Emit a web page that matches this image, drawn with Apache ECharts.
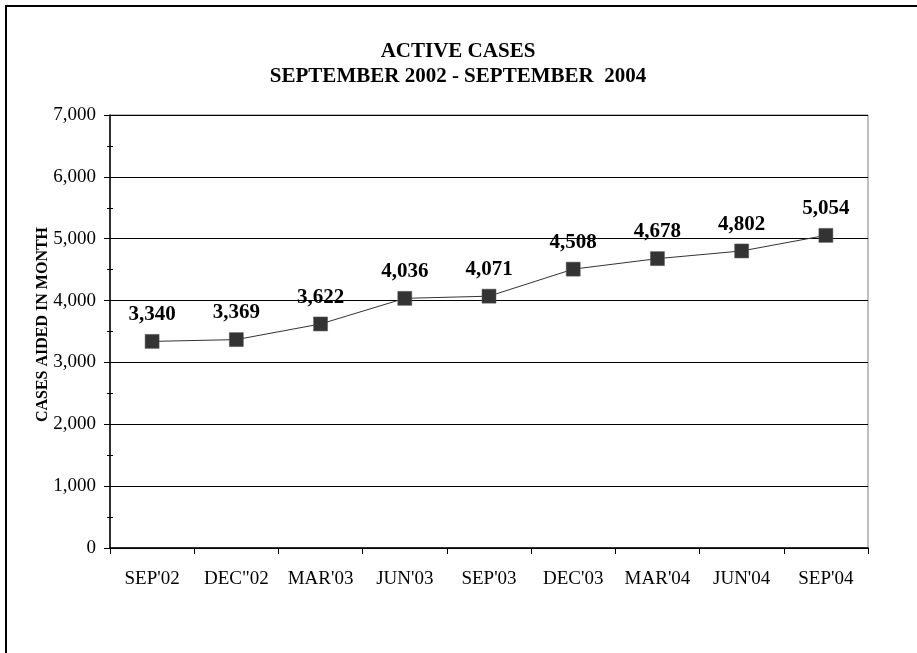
<!DOCTYPE html>
<html>
<head>
<meta charset="utf-8">
<script src="https://cdn.jsdelivr.net/npm/echarts@6/dist/echarts.min.js"></script>
<style>
html,body{margin:0;padding:0;background:#fff;}
#chart{width:917px;height:653px;}
</style>
</head>
<body>
<div id="chart"></div>
<script>
var categories = ["SEP'02", 'DEC"02', "MAR'03", "JUN'03", "SEP'03", "DEC'03", "MAR'04", "JUN'04", "SEP'04"];
var activeCases = [3340, 3369, 3622, 4036, 4071, 4508, 4678, 4802, 5054];
var titleLines = ["ACTIVE CASES", "SEPTEMBER 2002 - SEPTEMBER  2004"];
var yAxisName = "CASES AIDED IN MONTH";

var serif = "'Liberation Serif', 'Times New Roman', serif";
var chart = echarts.init(document.getElementById('chart'));
chart.setOption({
  backgroundColor: '#fff',
  animation: false,
  graphic: [{
    type: 'rect',
    shape: { x: 6, y: 6, width: 930, height: 670 },
    style: { fill: null, stroke: '#000', lineWidth: 2 },
    silent: true
  }],
  title: {
    text: titleLines.join('\n'),
    left: 453, top: 34, textAlign: 'center',
    textStyle: { fontFamily: serif, fontWeight: 'bold', fontSize: 21, lineHeight: 25, color: '#000' }
  },
  grid: { left: 110, right: 49, top: 115, bottom: 105, show: true, borderColor: '#808080', borderWidth: 1, containLabel: false },
  xAxis: {
    type: 'category', data: categories, boundaryGap: true,
    axisLine: { lineStyle: { color: '#000', width: 1.5 } },
    axisTick: { show: true, interval: 0, length: 6, lineStyle: { color: '#000' } },
    axisLabel: { interval: 0, hideOverlap: false, fontFamily: serif, fontSize: 19, color: '#000', margin: 22 },
    splitLine: { show: false }
  },
  yAxis: [{
    type: 'value', min: 0, max: 7000, interval: 1000,
    name: yAxisName, nameLocation: 'middle', nameGap: 59, nameRotate: 90, nameMoveOverlap: false,
    nameTextStyle: { fontFamily: serif, fontWeight: 'bold', fontSize: 16, color: '#000', padding: [0, 0, 0, 14] },
    axisLine: { show: true, lineStyle: { color: '#000', width: 1.5 } },
    axisTick: { show: true, length: 6, lineStyle: { color: '#000' } },
    axisLabel: { fontFamily: serif, fontSize: 19, color: '#000', margin: 14,
      formatter: function (v) { return v.toLocaleString('en-US'); } },
    splitLine: { show: true, lineStyle: { color: '#000', width: 1 } }
  }, {
    type: 'value', min: 0, max: 7000, interval: 1000, position: 'left', offset: -3,
    axisLine: { show: false }, axisLabel: { show: false }, splitLine: { show: false },
    axisTick: { show: false },
    minorTick: { show: true, splitNumber: 2, length: 6, lineStyle: { color: '#000' } }
  }],
  series: [{
    type: 'line', data: activeCases, yAxisIndex: 0,
    symbol: 'rect', symbolSize: 14,
    lineStyle: { color: '#333', width: 1 },
    itemStyle: { color: '#333', borderColor: '#555', borderWidth: 0.5 },
    label: { show: true, position: 'top', distance: 9, fontFamily: serif, fontWeight: 'bold', fontSize: 21, color: '#000',
      formatter: function (p) { return p.value.toLocaleString('en-US'); } }
  }]
});
</script>
</body>
</html>
